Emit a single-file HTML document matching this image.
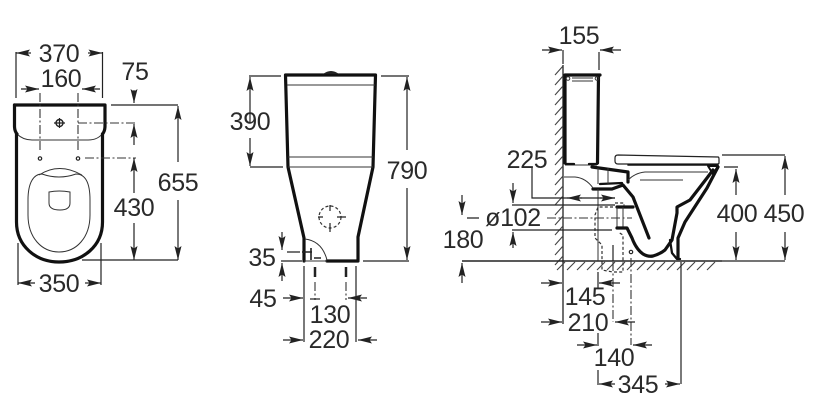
<!DOCTYPE html>
<html><head><meta charset="utf-8"><style>
html,body{margin:0;padding:0;background:#fff;width:816px;height:414px;overflow:hidden}
svg{display:block}
text{font-family:"Liberation Sans",sans-serif;font-size:25px;fill:#2a2a2a;text-anchor:middle;letter-spacing:-.3px}
.d{stroke:#222;stroke-width:1.2;fill:none}
.a{stroke:#222;stroke-width:1.2;fill:none;marker-end:url(#m)}
.t{stroke:#111;stroke-width:3.2;fill:none;stroke-linejoin:round;stroke-linecap:round}
.b{stroke:#111;stroke-width:2.3;fill:none;stroke-linejoin:round;stroke-linecap:round}
.m{stroke:#222;stroke-width:1.8;fill:none}
.n{stroke:#333;stroke-width:1;fill:none}
.c{stroke:#333;stroke-width:1.1;fill:none;stroke-dasharray:9 2.5 2 2.5}
.s{stroke:#333;stroke-width:1.2;fill:none;stroke-dasharray:3 2.2}
.h{stroke:#444;stroke-width:1.1;fill:none}
</style></head><body>
<svg width="816" height="414" viewBox="0 0 816 414" xmlns="http://www.w3.org/2000/svg">
<defs><marker id="m" markerUnits="userSpaceOnUse" markerWidth="16" markerHeight="10" refX="14" refY="5" orient="auto"><path d="M0 1.500L14 5L0 8.500L2.500 5Z" fill="#222"/></marker></defs>

<!-- LEFT VIEW -->
<path class="t" d="M14.500 105H105V126Q105 131 102.500 134"/>
<path class="t" d="M14.500 105V126Q14.500 131 17 134"/>
<path class="n" d="M17 134Q23 140 32 140H88Q98 140 103 133"/>
<path class="t" d="M16.500 134V222C16.500 246 36 262 59 262C83 262 102.500 246 102.500 222V134"/>
<path class="n" d="M28 200C28 182 34 174 42 174Q59 180 76 174C85 174 90 182 90 200V215C90 238 76 252 59 252C42 252 28 238 28 215Z"/>
<path class="n" d="M39 175Q59 162 82 175"/>
<path class="n" d="M49 192Q59 190 70 192V203Q70 210 60 210Q49 210 49 203Z"/>
<circle cx="59.500" cy="123" r="3.500" fill="none" stroke="#222" stroke-width="1.400"/>
<path class="d" d="M54 123H65M59.500 118V128"/>
<circle cx="40" cy="158.500" r="1.700" class="d"/><circle cx="78" cy="158.500" r="1.700" class="d"/>
<path class="c" d="M40 93V152M78 93V152M78 123H136M85 158H136"/>
<path class="d" d="M16 52V98M102.500 52V98M111 105H178M82 260H178M18 243V285M101 243V285"/>
<path class="a" d="M31 53H16"/><path class="a" d="M88 53H102.500"/>
<path class="a" d="M21 89H39"/><path class="a" d="M100 89H82"/>
<path class="a" d="M134 90V103"/><path class="a" d="M134 145V124"/>
<path class="a" d="M134 193V158"/><path class="a" d="M134 223V260"/>
<path class="a" d="M178 162V106"/><path class="a" d="M178 200V260"/>
<path class="a" d="M35 283H18"/><path class="a" d="M85 283H101"/>
<text x="59" y="62">370</text><text x="61" y="87">160</text><text x="135" y="80">75</text>
<text x="178" y="191">655</text><text x="134" y="216">430</text><text x="59" y="292">350</text>

<!-- MIDDLE VIEW -->
<path class="t" d="M285.500 75H375.500L373 167L358 237V260M285.500 75L288 167L304 238V261"/>
<path class="t" d="M327 261H358"/>
<path d="M323 74Q331 68 339 74Z" fill="#222"/>
<path class="n" d="M287 85H375M288 157H373M288 167H373"/>
<circle cx="330" cy="217" r="11" class="s"/>
<path class="d" d="M318 217H323M337 217H346M330 205V211M330 223V232"/>
<path class="n" d="M305 239Q322 241 327 260M304 261H327"/>
<path class="m" d="M302 252H312M311 248V260M314 258H321" style="stroke-width:1.600"/>
<path class="m" d="M315 267V277M346 267V277" style="stroke-width:2.500"/>
<path class="d" d="M249 76H281M250 167H283M381 76H409M363 261H409M281 261H302M287 252H300"/>
<path class="a" d="M250 122V77"/><path class="a" d="M250 138V166"/>
<path class="a" d="M407 150V77"/><path class="a" d="M407 188V260"/>
<path class="a" d="M282 232V250"/><path class="a" d="M282 281V263"/>
<path class="d" d="M304 266V342M356 266V342"/>
<path class="c" d="M315 282V300M346 282V300"/>
<path class="a" d="M283 298H303"/><path class="a" d="M367 298H348"/>
<path class="d" d="M310 299H320"/>
<path class="a" d="M283 340H303"/><path class="a" d="M377 340H358"/>
<text x="250" y="130">390</text><text x="407" y="179">790</text><text x="262" y="266">35</text>
<text x="263" y="307">45</text><text x="330" y="323">130</text><text x="329" y="348">220</text>

<!-- RIGHT VIEW -->
<path class="d" d="M563 65V324" style="stroke-width:1.300"/>
<path class="h" d="M555 75L563 66M555 85L563 76M555 95L563 86M555 105L563 96M555 115L563 106M555 125L563 116M555 135L563 126M555 145L563 136M555 155L563 146M555 165L563 156M555 175L563 166M555 185L563 176M555 195L563 186M555 205L563 196M555 215L563 206M555 225L563 216M555 235L563 226M555 245L563 236M555 255L563 246M555 265L563 256"/>
<path class="d" d="M462 261H722" style="stroke-width:1.400"/>
<path class="h" d="M557 270L565 262M567 270L575 262M577 270L585 262M587 270L595 262M597 270L605 262M607 270L615 262M617 270L625 262M627 270L635 262M637 270L645 262M647 270L655 262M657 270L665 262M667 270L675 262M677 270L685 262M687 270L695 262M697 270L705 262M707 270L715 262"/>

<!-- tank -->
<path class="t" d="M565 75H600M565 75V163M598.500 75L597.500 163"/>
<path class="n" d="M572 78H593M572 81H593M565 165H597"/>
<circle cx="568" cy="78.500" r="1.800" class="n"/><circle cx="597" cy="78.500" r="1.800" class="n"/>
<path class="b" d="M566 164H574M589 164H597"/>
<!-- seat -->
<path d="M618 155L718 157Q719 157 719 159V163Q719 164 717 164H618Q615 164 615 161V158Q615 155 618 155Z" fill="#fff" stroke="#222" stroke-width="1.200"/>
<path class="b" d="M628 165H718" style="stroke-width:1.500"/>
<!-- bowl top -->
<path class="t" d="M592 167L628 172V182"/>
<path class="t" d="M593 189H612L623 185L633 197L649 238"/>
<path class="b" d="M600 184L622 183"/>
<path class="n" d="M628 180Q635 173 645 172H708M640 180H683M564 177H575Q586 178 593 188M598 189V261M608 168V184M598 168V184"/>
<!-- bowl -->
<path class="t" d="M617 207H633"/>
<path class="n" d="M617 207V228M623 207V228"/>
<path class="t" d="M617 228H627L632 238Q636 249 643 254Q648 257 653 256Q660 254 665 250L672 240L677 213V207L690 200L707 178L713 170"/>
<path class="t" d="M718 167L707 188L685 222L678 238V258"/>
<path class="b" d="M670 240L672 253L677 259H680"/>
<path class="b" d="M708 166H718L713 174Z" style="stroke-width:2"/>
<circle cx="631" cy="252" r="1.700" class="d"/>
<!-- dashes -->
<path class="s" d="M615 203H624V206M613 207H598L595 215V238L602 245V270L613 272H623V235L618 232"/>
<path class="c" d="M547 218H632M631 258V345M613 262V322"/>
<path class="d" d="M613 245V261M467 218H479M599 52V70M563 50V64M532 168V198H615M512 205H615M512 230H612"/>
<path class="a" d="M542 50H562"/><path class="a" d="M621 50H600"/>
<path class="a" d="M582 198H567"/><path class="a" d="M600 198H615"/>
<path class="a" d="M462 195V215"/><path class="a" d="M513 183V203"/>
<path class="a" d="M513 248V232"/><path class="a" d="M462 283V263"/>
<path class="d" d="M681 262V384M598 272V288M598 333V346M598 370V385"/>
<path class="a" d="M541 283H562"/><path class="a" d="M620 283H599"/>
<path class="a" d="M541 322H562"/><path class="a" d="M635 322H615"/>
<path class="a" d="M577 345H597"/><path class="a" d="M652 345H633"/>
<path class="a" d="M615 384H599"/><path class="a" d="M665 384H680"/>
<path class="d" d="M722 155H785M724 167H738M722 261H785"/>
<path class="a" d="M736 195V169"/><path class="a" d="M736 232V260"/>
<path class="a" d="M785 195V156"/><path class="a" d="M785 232V260"/>
<text x="579" y="44">155</text><text x="527" y="168">225</text><text x="513" y="226">ø102</text>
<text x="463" y="248">180</text><text x="737" y="222">400</text><text x="784" y="222">450</text>
<text x="585" y="305">145</text><text x="588" y="331">210</text><text x="614" y="366">140</text><text x="638" y="393">345</text>
</svg>
</body></html>
